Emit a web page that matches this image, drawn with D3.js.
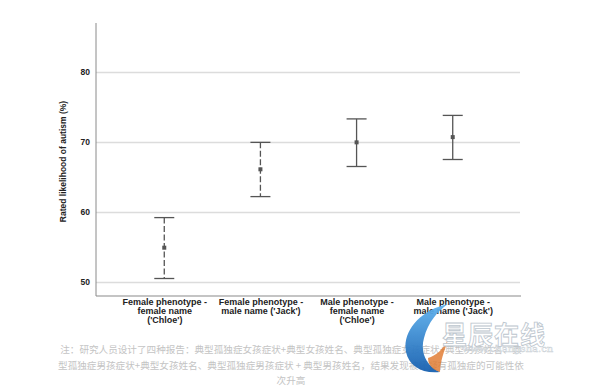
<!DOCTYPE html>
<html>
<head>
<meta charset="utf-8">
<script src="https://cdn.jsdelivr.net/npm/d3@7"></script>
<style>
  body { margin: 0; background: #fff; }
  svg { display: block; }
</style>
</head>
<body>
<svg id="chart"></svg>
<script>
// chart values
var categories = [
  ["Female phenotype -", "female name", "('Chloe')"],
  ["Female phenotype -", "male name ('Jack')"],
  ["Male phenotype -", "female name", "('Chloe')"],
  ["Male phenotype -", "male name ('Jack')"]
];
var means = [54.9, 66.1, 69.95, 70.7];
var lower = [50.5, 62.2, 66.5, 67.5];
var upper = [59.2, 69.95, 73.3, 73.8];
var dashed = [true, true, false, false];
var yTicks = [50, 60, 70, 80];
var captionLines = [
  "注：研究人员设计了四种报告：典型孤独症女孩症状+典型女孩姓名、典型孤独症女孩症状+典型男孩姓名、典",
  "型孤独症男孩症状+典型女孩姓名、典型孤独症男孩症状 + 典型男孩姓名，结果发现被怀疑有孤独症的可能性依",
  "次升高"
];

var width = 600, height = 391;
var svg = d3.select("#chart").attr("width", width).attr("height", height);

// plot area (window.top is reserved, so use own names)
var pLeft = 96, pRight = 521, pTop = 23, pBottom = 296;

var x = d3.scalePoint()
    .domain(d3.range(categories.length))
    .range([pLeft, pRight])
    .padding(0.71);

var y = d3.scaleLinear()
    .domain([48, 87])
    .range([pBottom, pTop]);

// gridlines
svg.append("g")
    .attr("transform", "translate(" + pLeft + ",0)")
    .call(d3.axisLeft(y).tickValues(yTicks).tickSize(-(pRight - pLeft - 1)).tickFormat(""))
    .call(function(g){ g.select(".domain").remove(); })
    .selectAll("line")
      .attr("stroke", "#dcdcdc")
      .attr("stroke-width", 1.5);

// y axis labels
svg.append("g")
    .attr("transform", "translate(" + (pLeft - 6) + ",0)")
    .call(d3.axisLeft(y).tickValues(yTicks).tickSize(0).tickPadding(0))
    .call(function(g){ g.select(".domain").remove(); })
    .selectAll("text")
      .attr("font-family", "Liberation Sans, Arial, sans-serif")
      .attr("font-weight", "bold")
      .attr("font-size", 8.5)
      .attr("fill", "#222");

// axis lines
svg.append("line")
    .attr("x1", pLeft).attr("x2", pLeft)
    .attr("y1", pTop).attr("y2", pBottom)
    .attr("stroke", "#8a8a8a").attr("stroke-width", 1);
svg.append("line")
    .attr("x1", pLeft).attr("x2", pRight)
    .attr("y1", pBottom).attr("y2", pBottom)
    .attr("stroke", "#8a8a8a").attr("stroke-width", 1.2);

// y axis title
svg.append("text")
    .attr("transform", "translate(66," + ((pTop + pBottom) / 2 + 2) + ") rotate(-90)")
    .attr("text-anchor", "middle")
    .attr("font-family", "Liberation Sans, Arial, sans-serif")
    .attr("font-weight", "bold")
    .attr("font-size", 8.5)
    .attr("fill", "#222")
    .text("Rated likelihood of autism (%)");

// x axis category labels
var xa = svg.append("g")
    .attr("transform", "translate(0," + pBottom + ")")
    .call(d3.axisBottom(x).tickSize(0).tickFormat(""));
xa.select(".domain").remove();
xa.selectAll(".tick").each(function(d){
  var t = d3.select(this).append("text")
      .attr("text-anchor", "middle")
      .attr("font-family", "Liberation Sans, Arial, sans-serif")
      .attr("font-weight", "bold")
      .attr("font-size", 9)
      .attr("fill", "#222");
  categories[d].forEach(function(line, i){
    t.append("tspan").attr("x", 0).attr("y", 8.5 + i * 9.3).text(line);
  });
});

// error bars
var cap = 10;
var bars = svg.append("g").selectAll("g")
    .data(means)
    .enter().append("g");

bars.append("line")
    .attr("x1", function(d, i){ return x(i); })
    .attr("x2", function(d, i){ return x(i); })
    .attr("y1", function(d, i){ return y(upper[i]); })
    .attr("y2", function(d, i){ return y(lower[i]); })
    .attr("stroke", "#555")
    .attr("stroke-width", 1.3)
    .attr("stroke-dasharray", function(d, i){ return dashed[i] ? "6,2.5" : null; });

bars.append("line")
    .attr("x1", function(d, i){ return x(i) - cap; })
    .attr("x2", function(d, i){ return x(i) + cap; })
    .attr("y1", function(d, i){ return y(upper[i]); })
    .attr("y2", function(d, i){ return y(upper[i]); })
    .attr("stroke", "#555").attr("stroke-width", 1.3);

bars.append("line")
    .attr("x1", function(d, i){ return x(i) - cap; })
    .attr("x2", function(d, i){ return x(i) + cap; })
    .attr("y1", function(d, i){ return y(lower[i]); })
    .attr("y2", function(d, i){ return y(lower[i]); })
    .attr("stroke", "#555").attr("stroke-width", 1.3);

bars.append("rect")
    .attr("x", function(d, i){ return x(i) - 2; })
    .attr("y", function(d){ return y(d) - 2; })
    .attr("width", 4).attr("height", 4)
    .attr("fill", "#555");

// caption
svg.append("g").selectAll("text")
    .data(captionLines)
    .enter().append("text")
    .attr("x", 291)
    .attr("y", function(d, i){ return 353 + i * 15.5; })
    .attr("text-anchor", "middle")
    .attr("font-family", "Noto Sans CJK SC, sans-serif")
    .attr("font-size", 9.6)
    .attr("fill", "#c4c4c4")
    .text(function(d){ return d; });

// watermark
var defs = svg.append("defs");
var grad = defs.append("linearGradient").attr("id", "wmBlue")
    .attr("x1", "0").attr("y1", "0").attr("x2", "0").attr("y2", "1");
grad.append("stop").attr("offset", "0").attr("stop-color", "#5fb2ee");
grad.append("stop").attr("offset", "1").attr("stop-color", "#1760b0");

var wm = svg.append("g").attr("opacity", 0.95);
wm.append("path")
    .attr("d", "M448,304 C420,310 402,332 406,352 C409,366 422,374 440,372 C426,366 420,352 424,338 C428,322 438,311 448,304 Z")
    .attr("fill", "url(#wmBlue)");
wm.append("path")
    .attr("d", "M448,340 C444,352 440,362 440,372 C432,370 428,364 428,358 C436,356 443,349 448,340 Z")
    .attr("fill", "#e0782c")
    .attr("opacity", 0.85);
wm.append("text")
    .attr("x", 442).attr("y", 344)
    .attr("font-family", "Noto Sans CJK SC, sans-serif")
    .attr("font-weight", "bold")
    .attr("font-size", 25)
    .attr("fill", "#fff")
    .attr("stroke", "#b9c3cc")
    .attr("stroke-width", 0.8)
    .attr("letter-spacing", 1)
    .text("星辰在线");
wm.append("text")
    .attr("x", 462).attr("y", 352)
    .attr("font-family", "DejaVu Serif, serif")
    .attr("font-size", 10)
    .attr("fill", "#fff")
    .attr("stroke", "#c9d0d6")
    .attr("stroke-width", 0.5)
    .text("www.changsha.cn");
</script>
</body>
</html>
